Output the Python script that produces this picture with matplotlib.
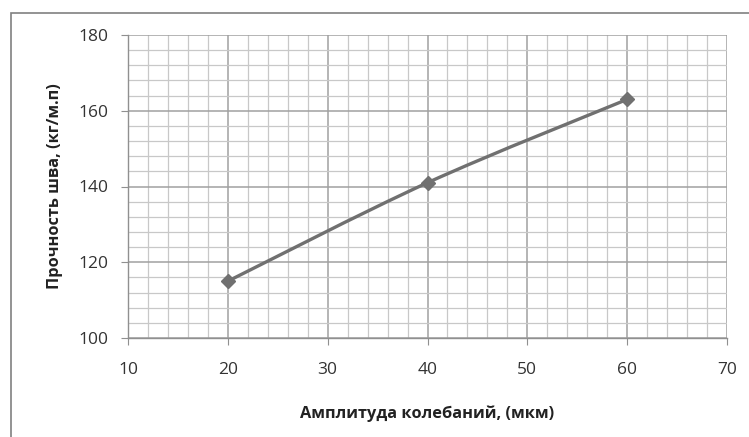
import matplotlib
matplotlib.use("Agg")
import matplotlib.pyplot as plt
from matplotlib.path import Path
from matplotlib.patches import PathPatch, Rectangle
from matplotlib.ticker import MultipleLocator
import numpy as np

amplitude = [20, 40, 60]
strength = [115, 141, 163]
xlabel = "Амплитуда колебаний, (мкм)"
ylabel = "Прочность шва, (кг/м.п)"

plt.rcParams['font.family'] = ['Open Sans', 'DejaVu Sans']

fig = plt.figure(figsize=(7.49, 4.37), dpi=100)
ax = fig.add_axes([128/749, 1-338/437, 599/749, 303/437])

ax.set_xlim(10, 70)
ax.set_ylim(100, 180)
ax.xaxis.set_major_locator(MultipleLocator(10))
ax.xaxis.set_minor_locator(MultipleLocator(2))
ax.yaxis.set_major_locator(MultipleLocator(20))
ax.yaxis.set_minor_locator(MultipleLocator(4))
ax.grid(which='major', color='#a0a0a0', lw=1.1)
ax.grid(which='minor', color='#c8c8c8', lw=0.9)
ax.set_axisbelow(True)
for s in ['top', 'right']:
    ax.spines[s].set_visible(False)
for s in ['left', 'bottom']:
    ax.spines[s].set_color('#909090')
    ax.spines[s].set_linewidth(1.0)
ax.tick_params(which='major', direction='out', length=5, color='#909090',
               labelsize=12.5, labelcolor='#333333')
ax.tick_params(axis='y', which='major', pad=9)
ax.tick_params(axis='x', which='major', pad=12)
ax.tick_params(which='minor', length=0)

# Smooth (Excel-like) curve through points via cubic Bezier segments
x = np.array(amplitude, float)
y = np.array(strength, float)
n = len(x)
verts = [(x[0], y[0])]
codes = [Path.MOVETO]
t = 1/6
for i in range(n-1):
    p0 = (x[i-1], y[i-1]) if i > 0 else (x[i], y[i])
    p1 = (x[i], y[i])
    p2 = (x[i+1], y[i+1])
    p3 = (x[i+2], y[i+2]) if i+2 < n else (x[i+1], y[i+1])
    c1 = (p1[0] + (p2[0]-p0[0])*t, p1[1] + (p2[1]-p0[1])*t)
    c2 = (p2[0] - (p3[0]-p1[0])*t, p2[1] - (p3[1]-p1[1])*t)
    verts += [c1, c2, p2]
    codes += [Path.CURVE4]*3
ax.add_patch(PathPatch(Path(verts, codes), fill=False, edgecolor='#707070', lw=2.4,
                       capstyle='round', zorder=3))
ax.plot(amplitude, strength, linestyle='none', marker='D', markersize=7,
        color='#707070', zorder=4)

ax.set_xlabel(xlabel, fontsize=11.8, fontweight='bold', color='#222222', labelpad=20)
ax.set_ylabel(ylabel, fontsize=11.8, fontweight='bold', color='#222222', labelpad=11)

fig.patches.append(Rectangle((11/749, -0.2), 1.0, 1.2 - 13/437,
                             transform=fig.transFigure, fill=False,
                             edgecolor='#808080', lw=1.2))

fig.savefig('out.png', dpi=100)
